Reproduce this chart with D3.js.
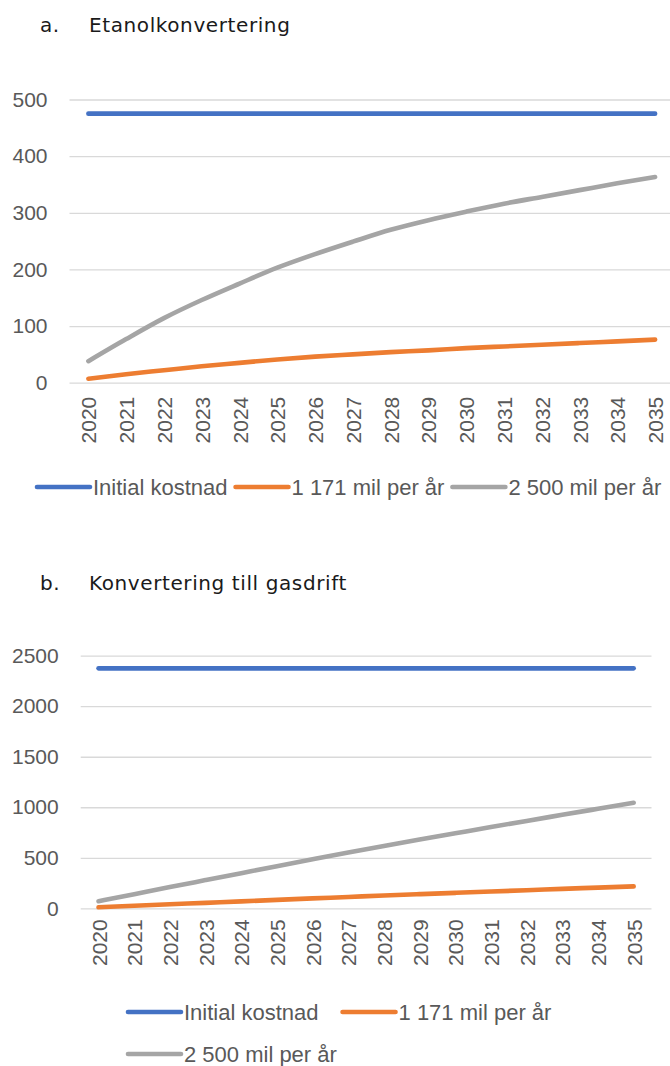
<!DOCTYPE html>
<html>
<head>
<meta charset="utf-8">
<script src="https://cdn.jsdelivr.net/npm/d3@7"></script>
<style>
  body { margin: 0; background: #fff; }
  svg { display: block; }
</style>
</head>
<body>
<svg id="chart" width="670" height="1066"></svg>
<script>
// Years on the category axis
const years = ["2020", "2021", "2022", "2023", "2024", "2025", "2026", "2027",
               "2028", "2029", "2030", "2031", "2032", "2033", "2034", "2035"];

// Legend labels and series colours
const seriesNames = ["Initial kostnad", "1 171 mil per år", "2 500 mil per år"];
const seriesColors = ["#4472C4", "#ED7D31", "#A5A5A5"];

// a. Etanolkonvertering
const etanolInitial = [475, 475, 475, 475, 475, 475, 475, 475, 475, 475, 475, 475, 475, 475, 475, 475];
const etanol1171 = [7, 15, 22, 29, 35, 41, 46, 50, 54, 57, 61, 64, 67, 70, 73, 76];
const etanol2500 = [38, 77, 114, 146, 175, 203, 227, 249, 270, 287, 302, 316, 328, 340, 352, 363];
const etanolTicks = [0, 100, 200, 300, 400, 500];

// b. Konvertering till gasdrift
const gasInitial = [2375, 2375, 2375, 2375, 2375, 2375, 2375, 2375, 2375, 2375, 2375, 2375, 2375, 2375, 2375, 2375];
const gas1171 = [10, 25, 40, 54, 69, 83, 98, 112, 127, 140, 153, 166, 179, 192, 205, 217];
const gas2500 = [70, 140, 210, 279, 348, 417, 485, 552, 617, 680, 742, 804, 865, 925, 985, 1045];
const gasTicks = [0, 500, 1000, 1500, 2000, 2500];

const svg = d3.select("#chart");
const labelFont = "'Liberation Sans', Arial, sans-serif";
const titleFont = "'DejaVu Sans', Verdana, sans-serif";
const textColor = "#595959";

function drawPanel(cfg) {
  const g = svg.append("g");

  // Title
  g.append("text")
    .attr("x", 40).attr("y", cfg.titleY)
    .attr("font-family", titleFont).attr("font-size", 20)
    .attr("letter-spacing", 0.6)
    .attr("fill", "#1a1a1a")
    .text(cfg.letter);
  g.append("text")
    .attr("x", 89).attr("y", cfg.titleY)
    .attr("font-family", titleFont).attr("font-size", 20)
    .attr("letter-spacing", 0.6)
    .attr("fill", "#1a1a1a")
    .text(cfg.title);

  const x = d3.scalePoint().domain(years).range(cfg.xRange).padding(0.5);
  const y = d3.scaleLinear().domain([0, d3.max(cfg.ticks)]).range(cfg.yRange);

  // Horizontal gridlines
  const yAxis = d3.axisLeft(y)
    .tickValues(cfg.ticks)
    .tickSize(-(cfg.xRange[1] - cfg.xRange[0]))
    .tickPadding(22)
    .tickFormat(d3.format("d"));
  const ya = g.append("g")
    .attr("transform", `translate(${cfg.xRange[0]},0)`)
    .call(yAxis);
  ya.select(".domain").remove();
  ya.selectAll(".tick line").attr("stroke", "#D9D9D9").attr("stroke-width", 1.3);
  ya.selectAll(".tick text")
    .attr("font-family", labelFont).attr("font-size", 21)
    .attr("fill", textColor);

  // Rotated year labels
  const xAxis = d3.axisBottom(x).tickSize(0).tickPadding(0);
  const xa = g.append("g")
    .attr("transform", `translate(0,${cfg.yRange[0]})`)
    .call(xAxis);
  xa.select(".domain").remove();
  xa.selectAll(".tick text")
    .attr("font-family", labelFont).attr("font-size", 21)
    .attr("fill", textColor)
    .attr("text-anchor", "end")
    .attr("transform", `translate(0,${cfg.labelGap}) rotate(-90)`)
    .attr("x", 0).attr("y", 0).attr("dy", "0.36em");

  // Series lines
  const line = d3.line()
    .x((d, i) => x(years[i]))
    .y(d => y(d))
    .curve(d3.curveMonotoneX);
  cfg.series.forEach((vals, k) => {
    g.append("path")
      .datum(vals)
      .attr("d", line)
      .attr("fill", "none")
      .attr("stroke", seriesColors[k])
      .attr("stroke-width", 4.6)
      .attr("stroke-linecap", "round")
      .attr("stroke-linejoin", "round");
  });

  // Legend
  cfg.legendRows.forEach(row => {
    let cx = row.x;
    row.items.forEach(k => {
      g.append("line")
        .attr("x1", cx + 2).attr("x2", cx + 55)
        .attr("y1", row.y).attr("y2", row.y)
        .attr("stroke", seriesColors[k])
        .attr("stroke-width", 4.6)
        .attr("stroke-linecap", "round");
      const t = g.append("text")
        .attr("x", cx + 58).attr("y", row.y)
        .attr("dy", "0.35em")
        .attr("font-family", labelFont).attr("font-size", 22)
        .attr("fill", textColor)
        .text(seriesNames[k]);
      cx += 58 + t.node().getComputedTextLength() + row.gap;
    });
  });
}

drawPanel({
  letter: "a.",
  title: "Etanolkonvertering",
  titleY: 32,
  xRange: [69.5, 674],
  yRange: [382.7, 99.5],
  ticks: etanolTicks,
  labelGap: 14,
  series: [etanolInitial, etanol1171, etanol2500],
  legendRows: [{ x: 35, y: 487, gap: 6, items: [0, 1, 2] }]
});

drawPanel({
  letter: "b.",
  title: "Konvertering till gasdrift",
  titleY: 590,
  xRange: [80.7, 651.5],
  yRange: [908.3, 655.7],
  ticks: gasTicks,
  labelGap: 11,
  series: [gasInitial, gas1171, gas2500],
  legendRows: [
    { x: 126, y: 1012, gap: 22, items: [0, 1] },
    { x: 126, y: 1054, gap: 22, items: [2] }
  ]
});
</script>
</body>
</html>
